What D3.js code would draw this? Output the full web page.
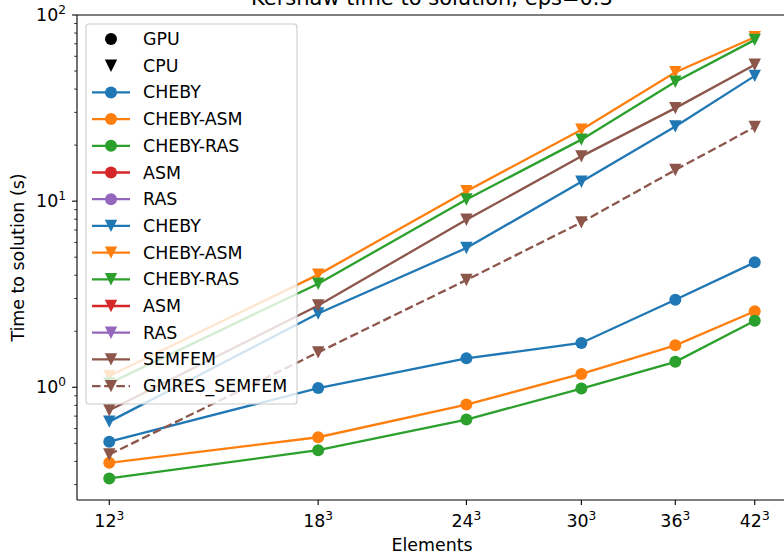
<!DOCTYPE html>
<meta charset="utf-8">
<script src="https://cdn.jsdelivr.net/npm/d3@7"></script>
<style>
body { margin: 0; background: #fff; }
text { font-family: "DejaVu Sans", sans-serif; fill: #000; }
</style>
<body>
<script>

// cube root of element count
var sizes = [12, 18, 24, 30, 36, 42];
var tickLabels = ["12", "18", "24", "30", "36", "42"];

// GPU runs (seconds)
var gpuCheby    = [0.51, 0.99, 1.43, 1.73, 2.95, 4.69];
var gpuChebyAsm = [0.393, 0.539, 0.807, 1.18, 1.68, 2.56];
var gpuChebyRas = [0.324, 0.459, 0.671, 0.984, 1.37, 2.28];
var gpuAsm = [];
var gpuRas = [];

// CPU runs (seconds)
var cpuCheby       = [0.654, 2.49, 5.6, 12.7, 25.2, 47.1];
var cpuChebyAsm    = [1.15, 4.03, 11.3, 24.2, 49.3, 76];
var cpuChebyRas    = [1.05, 3.6, 10.2, 21.4, 43.8, 73.5];
var cpuAsm = [];
var cpuRas = [];
var cpuSemfem      = [0.753, 2.75, 7.94, 17.4, 31.6, 54];
var cpuGmresSemfem = [0.435, 1.54, 3.77, 7.69, 14.7, 25];

var colors = {CHEBY: "#1f77b4", "CHEBY-ASM": "#ff7f0e", "CHEBY-RAS": "#2ca02c",
              ASM: "#d62728", RAS: "#9467bd", SEMFEM: "#8c564b"};

var series = [
  {name: "CHEBY", vals: gpuCheby, marker: "o", color: colors.CHEBY},
  {name: "CHEBY-ASM", vals: gpuChebyAsm, marker: "o", color: colors["CHEBY-ASM"]},
  {name: "CHEBY-RAS", vals: gpuChebyRas, marker: "o", color: colors["CHEBY-RAS"]},
  {name: "ASM", vals: gpuAsm, marker: "o", color: colors.ASM},
  {name: "RAS", vals: gpuRas, marker: "o", color: colors.RAS},
  {name: "CHEBY", vals: cpuCheby, marker: "v", color: colors.CHEBY},
  {name: "CHEBY-ASM", vals: cpuChebyAsm, marker: "v", color: colors["CHEBY-ASM"]},
  {name: "CHEBY-RAS", vals: cpuChebyRas, marker: "v", color: colors["CHEBY-RAS"]},
  {name: "ASM", vals: cpuAsm, marker: "v", color: colors.ASM},
  {name: "RAS", vals: cpuRas, marker: "v", color: colors.RAS},
  {name: "SEMFEM", vals: cpuSemfem, marker: "v", color: colors.SEMFEM},
  {name: "GMRES_SEMFEM", vals: cpuGmresSemfem, marker: "v", color: colors.SEMFEM, dash: "8.5,3.7"}
];

var width = 784, height = 555;
var margin = {left: 77, right: 787, top: 15, bottom: 500};
var fs = "17.4px", fsSup = "12.2px";

var elements = sizes.map(function(n) { return n * n * n; });
var lo = Math.log(elements[0]), hi = Math.log(elements[elements.length - 1]);
var pad = (hi - lo) * 0.05;

var x = d3.scaleLog()
    .domain([Math.exp(lo - pad), Math.exp(hi + pad)])
    .range([margin.left, margin.right]);

var y = d3.scaleLog()
    .domain([0.248, 100])
    .range([margin.bottom, margin.top]);

var svg = d3.select("body").append("svg")
    .attr("width", width)
    .attr("height", height);

var plot = svg.append("g");

// lines
var line = d3.line()
    .x(function(d, i) { return x(elements[i]); })
    .y(function(d) { return y(d); });

function triDown(r) {
  return "M0," + r + "L" + (-r) + "," + (-r) + "L" + r + "," + (-r) + "Z";
}

series.forEach(function(s) {
  if (!s.vals.length) return;
  plot.append("path")
      .attr("d", line(s.vals))
      .attr("fill", "none")
      .attr("stroke", s.color)
      .attr("stroke-width", 2.3)
      .attr("stroke-dasharray", s.dash || null);
  var g = plot.selectAll(null)
      .data(s.vals)
      .enter().append("g")
      .attr("transform", function(d, i) {
        return "translate(" + x(elements[i]) + "," + y(d) + ")";
      });
  if (s.marker === "o") {
    g.append("circle").attr("r", 6).attr("fill", s.color);
  } else {
    g.append("path").attr("d", triDown(6.2)).attr("fill", s.color);
  }
});

// axes frame
var axisColor = "#000";
var L = margin.left, R = margin.right, T = margin.top, B = margin.bottom;
svg.append("line").attr("x1", L).attr("x2", L).attr("y1", T).attr("y2", B)
    .attr("stroke", axisColor).attr("stroke-width", 1.1);
svg.append("line").attr("x1", L).attr("x2", R).attr("y1", B).attr("y2", B)
    .attr("stroke", axisColor).attr("stroke-width", 1.1);
svg.append("line").attr("x1", L).attr("x2", R).attr("y1", T).attr("y2", T)
    .attr("stroke", axisColor).attr("stroke-width", 1.1);
svg.append("line").attr("x1", R).attr("x2", R).attr("y1", T).attr("y2", B)
    .attr("stroke", axisColor).attr("stroke-width", 1.1);

// x ticks
var xt = svg.selectAll(".xtick")
    .data(elements)
    .enter().append("g")
    .attr("class", "xtick")
    .attr("transform", function(d) { return "translate(" + x(d) + ",0)"; });
xt.append("line").attr("y1", B).attr("y2", B + 4.9)
    .attr("stroke", axisColor).attr("stroke-width", 1.1);
var xtt = xt.append("text")
    .attr("y", 527)
    .attr("text-anchor", "middle")
    .style("font-size", fs);
xtt.append("tspan").text(function(d, i) { return tickLabels[i]; });
xtt.append("tspan").attr("dy", -7.5).style("font-size", fsSup).text("3");

// y ticks
var yMajor = [1, 10, 100];
var yMinor = [];
[0.1, 1, 10].forEach(function(dec) {
  for (var k = 2; k <= 9; k++) {
    var v = dec * k;
    if (v >= y.domain()[0] && v <= 100) yMinor.push(v);
  }
});

svg.selectAll(".ymin")
    .data(yMinor)
    .enter().append("line")
    .attr("x1", L - 2.8).attr("x2", L)
    .attr("y1", function(d) { return y(d); })
    .attr("y2", function(d) { return y(d); })
    .attr("stroke", axisColor).attr("stroke-width", 0.8);

var yt = svg.selectAll(".ytick")
    .data(yMajor)
    .enter().append("g")
    .attr("transform", function(d) { return "translate(0," + y(d) + ")"; });
yt.append("line").attr("x1", L - 4.9).attr("x2", L)
    .attr("stroke", axisColor).attr("stroke-width", 1.1);
var ytt = yt.append("text")
    .attr("x", 66)
    .attr("y", 6)
    .attr("text-anchor", "end")
    .style("font-size", fs);
ytt.append("tspan").text("10");
ytt.append("tspan").attr("dy", -7.5).style("font-size", fsSup)
    .text(function(d) { return Math.round(Math.log10(d)); });

// labels
svg.append("text")
    .attr("x", (L + R) / 2)
    .attr("y", 551)
    .attr("text-anchor", "middle")
    .style("font-size", fs)
    .text("Elements");

svg.append("text")
    .attr("transform", "translate(24," + ((T + B) / 2) + ") rotate(-90)")
    .attr("text-anchor", "middle")
    .style("font-size", fs)
    .text("Time to solution (s)");

svg.append("text")
    .attr("x", (L + R) / 2)
    .attr("y", 5)
    .attr("text-anchor", "middle")
    .style("font-size", "21px")
    .text("Kershaw time to solution, eps=0.3");

// legend
var legendItems = [{name: "GPU", marker: "o", color: "#000", noLine: true},
                   {name: "CPU", marker: "v", color: "#000", noLine: true}].concat(series);

var legend = svg.append("g");
legend.append("rect")
    .attr("x", 86).attr("y", 24)
    .attr("width", 211).attr("height", 380)
    .attr("rx", 3)
    .attr("fill", "rgba(255,255,255,0.8)")
    .attr("stroke", "#cccccc")
    .attr("stroke-width", 1.1);

var li = legend.selectAll(".li")
    .data(legendItems)
    .enter().append("g")
    .attr("transform", function(d, i) { return "translate(0," + (39 + i * 26.7) + ")"; });

li.filter(function(d) { return !d.noLine; })
    .append("line")
    .attr("x1", 92).attr("x2", 130)
    .attr("stroke", function(d) { return d.color; })
    .attr("stroke-width", 2.3)
    .attr("stroke-dasharray", function(d) { return d.dash || null; });

li.each(function(d) {
  var g = d3.select(this).append("g").attr("transform", "translate(111,0)");
  if (d.marker === "o") g.append("circle").attr("r", 6).attr("fill", d.color);
  else g.append("path").attr("d", triDown(6.2)).attr("fill", d.color);
});

li.append("text")
    .attr("x", 143)
    .attr("y", 6)
    .style("font-size", fs)
    .text(function(d) { return d.name; });

</script>
</body>
